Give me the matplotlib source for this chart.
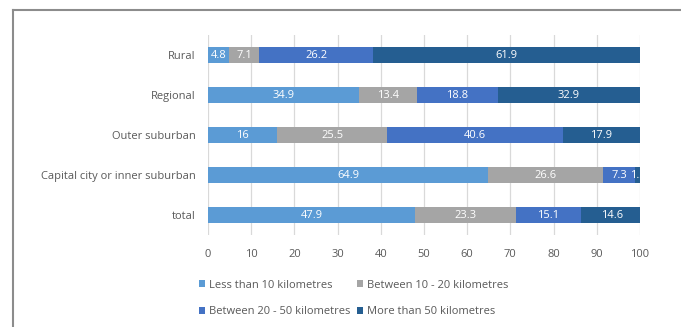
import matplotlib
matplotlib.use("Agg")
import matplotlib.pyplot as plt
from matplotlib.lines import Line2D
import numpy as np

categories = ["Rural", "Regional", "Outer suburban", "Capital city or inner suburban", "total"]
series_names = ["Less than 10 kilometres", "Between 10 - 20 kilometres",
                "Between 20 - 50 kilometres", "More than 50 kilometres"]
less_10 = [4.8, 34.9, 16, 64.9, 47.9]
between_10_20 = [7.1, 13.4, 25.5, 26.6, 23.3]
between_20_50 = [26.2, 18.8, 40.6, 7.3, 15.1]
more_50 = [61.9, 32.9, 17.9, 1.2, 14.6]
x_ticks = [0, 10, 20, 30, 40, 50, 60, 70, 80, 90, 100]

colors = ["#5B9BD5", "#A5A5A5", "#4472C4", "#255E91"]
text_color = "#595959"

plt.rcParams["font.family"] = ["Open Sans", "DejaVu Sans"]

fig = plt.figure(figsize=(6.81, 3.27), dpi=100)
ax = fig.add_axes([208 / 681, 1 - 235 / 327, 432 / 681, 200 / 327])

# outer frame of the chart area: top and left edges only
fx = 12.5 / 681
fy = 1 - 10 / 327
fig.lines.append(Line2D([fx, 1.0], [fy, fy], transform=fig.transFigure,
                        color="#8C8C8C", linewidth=1.5))
fig.lines.append(Line2D([fx, fx], [0.0, fy], transform=fig.transFigure,
                        color="#8C8C8C", linewidth=1.5))

y = np.arange(len(categories))
left = np.zeros(len(categories))
handles = []
for name, vals, col in zip(series_names, [less_10, between_10_20, between_20_50, more_50], colors):
    vals = np.array(vals, dtype=float)
    bars = ax.barh(y, vals, left=left, height=0.4, color=col, label=name, zorder=3)
    handles.append(bars)
    for yi, l, v in zip(y, left, vals):
        ax.text(l + v / 2, yi, f"{v:g}", ha="center", va="center", color="white",
                fontsize=8, zorder=4, clip_on=True)
    left += vals

ax.set_ylim(len(categories) - 0.5, -0.5)
ax.set_xlim(0, 100)
ax.set_xticks(x_ticks)
ax.set_yticks(y)
ax.set_yticklabels(categories)
ax.tick_params(axis="both", length=0, labelsize=8, labelcolor=text_color)
ax.tick_params(axis="x", pad=10)
ax.tick_params(axis="y", pad=9)
ax.grid(axis="x", color="#D9D9D9", linewidth=0.9, zorder=0)
for s in ax.spines.values():
    s.set_visible(False)

order = [0, 2, 1, 3]
leg = fig.legend([handles[i] for i in order], [series_names[i] for i in order],
                 ncol=2, loc="upper left", bbox_to_anchor=(191 / 681, 1 - 272 / 327),
                 frameon=False, fontsize=8, handlelength=0.6, handleheight=0.6,
                 handletextpad=0.3, columnspacing=0.6, labelspacing=1.4,
                 borderpad=0.2, labelcolor=text_color)

fig.savefig("out.png", dpi=100)
